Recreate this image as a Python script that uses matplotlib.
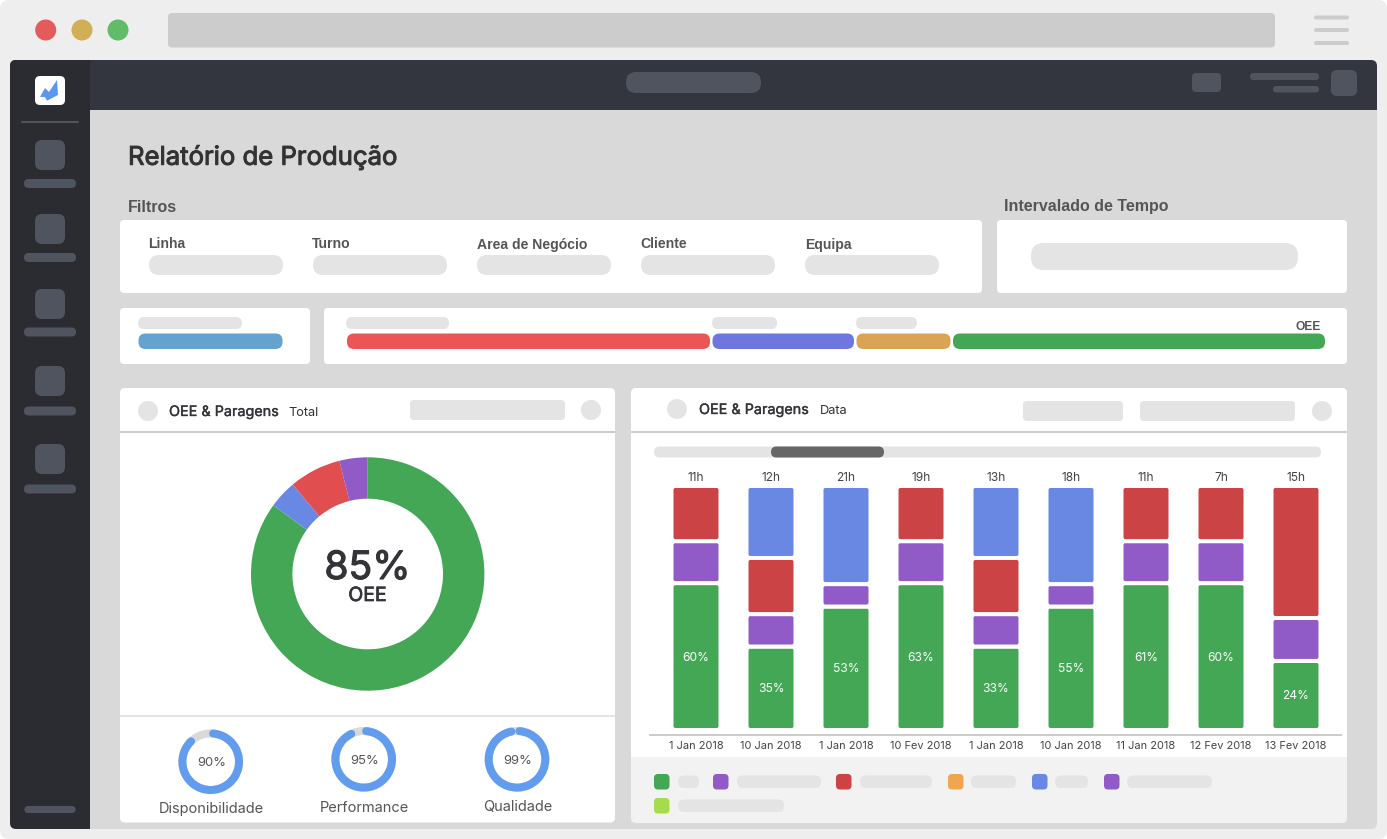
import numpy as np
import matplotlib
matplotlib.use("Agg")
import matplotlib.pyplot as plt
import matplotlib.patheffects as pe
from matplotlib.patches import FancyBboxPatch, Circle, Polygon, Arc

# ---------- data ----------
dates = ["1 Jan 2018", "10 Jan 2018", "1 Jan 2018", "10 Fev 2018", "1 Jan 2018",
         "10 Jan 2018", "11 Jan 2018", "12 Fev 2018", "13 Fev 2018"]
hours = ["11h", "12h", "21h", "19h", "13h", "18h", "11h", "7h", "15h"]
oee_labels = ["60%", "35%", "53%", "63%", "33%", "55%", "61%", "60%", "24%"]
green_vals = [60.2, 34.2, 50.6, 60.2, 34.2, 50.6, 60.2, 60.2, 28.3]
purple_vals = [17.2, 13.3, 9.2, 17.2, 13.3, 9.2, 17.2, 17.2, 17.6]
red_vals = [22.6, 23.0, 0, 22.6, 23.0, 0, 22.6, 22.6, 54.1]
blue_vals = [0, 29.5, 40.2, 0, 29.5, 40.2, 0, 0, 0]

donut_vals = [85.0, 3.9, 7.2, 3.9]
gauge_vals = [90, 95, 99]
gauge_names = ["Disponibilidade", "Performance", "Qualidade"]
filter_names = ["Linha", "Turno", "Area de Negócio", "Cliente", "Equipa"]

# ---------- colours ----------
GREEN, PURPLE, RED, BLUE = "#43A755", "#915BC7", "#CB4345", "#6888E3"
DONUT_RED = "#E04E50"
PILL, ICON, INK = "#E4E4E4", "#50545E", "#333338"

W, H = 1387, 839
PT = 0.72  # points per pixel at dpi 100
BODY = "Inter"
HEADING = "Liberation Sans"

fig = plt.figure(figsize=(W / 100, H / 100), dpi=100, facecolor="white")
bg = fig.add_axes([0, 0, 1, 1])
bg.set_xlim(0, W)
bg.set_ylim(H, 0)
bg.axis("off")


def rr(x0, y0, x1, y1, r, color, ax=bg, z=1):
    ax.add_patch(FancyBboxPatch((x0, y0), x1 - x0, y1 - y0,
                                boxstyle=f"round,pad=0,rounding_size={r}",
                                fc=color, ec="none", lw=0, zorder=z))


def dot(x, y, r, color, z=2):
    bg.add_patch(Circle((x, y), r, fc=color, ec="none", zorder=z))


def heavier(t, color, amount):
    t.set_path_effects([pe.withStroke(linewidth=amount, foreground=color)])


def txt(x, y, s, px, color=INK, weight="normal", ha="left", family=BODY, stroke=0, va="center_baseline"):
    t = bg.text(x, y, s, fontsize=px * PT, color=color, fontweight=weight, ha=ha,
                va=va, family=family, zorder=5)
    if stroke:
        heavier(t, color, stroke)
    return t


def ax_px(x0, y0, x1, y1):
    a = fig.add_axes([x0 / W, 1 - y1 / H, (x1 - x0) / W, (y1 - y0) / H])
    a.patch.set_alpha(0)
    return a


# ---------- browser chrome ----------
rr(0, 0, W, H, 9, "#EEEEEE", z=0)
for x, c in [(45.7, "#E55A5D"), (82, "#D1AF56"), (118, "#60BC69")]:
    dot(x, 30, 10.5, c)
rr(168, 13, 1275, 47.5, 4, "#CCCCCC")
for y in (15.5, 28, 41):
    rr(1314, y, 1349, y + 4, 2, "#CCCCCC")

# window
rr(10, 60, 1377, 829, 6, "#D9D9D9")
rr(10, 60, 1377, 110, 6, "#33363E", z=1.1)
bg.fill_between([90, 1377], 100, 110, color="#33363E", lw=0, zorder=1.1)
rr(10, 60, 90, 829, 6, "#2B2C31", z=1.2)
bg.fill_between([50, 90], 60, 829, color="#2B2C31", lw=0, zorder=1.2)

# header
rr(626, 72, 761, 93, 10, ICON, z=2)
rr(1192, 73, 1221, 92, 4, ICON, z=2)
rr(1250, 73, 1319, 80, 3.5, ICON, z=2)
rr(1273, 86, 1319, 92.5, 3, ICON, z=2)
rr(1331, 70, 1357, 96, 6, ICON, z=2)

# sidebar
rr(35, 76, 65, 105, 5, "#FFFFFF", z=2)
bg.add_patch(Polygon([(40, 97), (45, 88), (49, 92), (57, 80), (58, 95), (47, 100.7), (45, 97)],
                     closed=True, fc="#5B96F0", ec="none", zorder=3))
rr(21, 121, 79, 123, 1, ICON, z=2)
for cy, py in zip((155, 229, 304, 381, 459), (183.5, 257.5, 332, 411, 489)):
    rr(35, cy - 15, 65, cy + 15, 7, ICON, z=2)
    rr(24, py - 4.5, 76, py + 4.5, 4.5, ICON, z=2)
rr(24.5, 806, 75.5, 813, 3.5, ICON, z=2)

# ---------- page header and filters ----------
txt(128, 155, "Relatório de Produção", 25.7, "#333333", stroke=0.7)
txt(128, 211.5, "Filtros", 16, "#555555", "bold", family=HEADING, va="baseline")
txt(1004, 211.5, "Intervalado de Tempo", 16, "#555555", "bold", family=HEADING, va="baseline")

rr(120, 220, 982, 293, 4, "#FFFFFF", z=2)
rr(997, 220, 1347, 293, 4, "#FFFFFF", z=2)
for name, tx, px0 in zip(filter_names, (148, 312, 477, 640, 805), (149, 313, 477, 641, 805)):
    txt(tx, 248.5, name, 14, "#555555", "bold", family=HEADING, va="baseline")
    rr(px0, 255, px0 + 134, 275, 10, PILL, z=3)
rr(1031, 243, 1298, 270, 13, PILL, z=3)

# ---------- summary bars ----------
rr(120, 308, 310, 364, 4, "#FFFFFF", z=2)
rr(324, 308, 1347, 364, 4, "#FFFFFF", z=2)
for a, b in [(138, 242), (346, 449), (712, 777), (856, 917)]:
    rr(a, 317, b, 329, 6, PILL, z=3)
for a, b, c in [(138.5, 282.5, "#64A3CE"), (347, 710, "#EC5557"), (712.5, 854, "#7076DF"),
                (856.5, 950.5, "#D9A456"), (953, 1325, GREEN)]:
    rr(a, 333.5, b, 349, 7, c, z=3)
txt(1321, 325, "OEE", 12, "#555555", "bold", ha="right", family=HEADING)

# ---------- left card ----------
rr(120, 388, 615, 822.5, 5, "#FFFFFF", z=2)
bg.fill_between([120, 615], 431, 433, color="#CCCCCC", lw=0, zorder=3)
bg.fill_between([120, 615], 715, 717, color="#E4E4E4", lw=0, zorder=3)
dot(148, 411, 10, PILL, z=3)
txt(169, 410.5, "OEE & Paragens", 14.4, INK, stroke=0.25)
txt(288.5, 411, "Total", 12.8, INK)
rr(410, 400, 565, 420, 4, PILL, z=3)
dot(591, 410, 10, PILL, z=3)

# donut
RO, RI = 116.7, 75.3
dax = ax_px(367.7 - RO * 1.1, 574 - RO * 1.1, 367.7 + RO * 1.1, 574 + RO * 1.1)
dax.pie(donut_vals, colors=[GREEN, BLUE, DONUT_RED, PURPLE], startangle=90, counterclock=False,
        radius=1, wedgeprops=dict(width=(RO - RI) / RO, lw=0))
dax.set_xlim(-1.1, 1.1)
dax.set_ylim(-1.1, 1.1)
txt(367.5, 564.5, "85%", 39, INK, ha="center", stroke=0.8)
txt(367.5, 594, "OEE", 19.5, INK, ha="center", stroke=0.5)

# gauges
GB = "#629CEE"
OUT, RING = 32.3, 8.0
for v, name, cx, cy, ly in zip(gauge_vals, gauge_names, (210.7, 363.7, 517), (761.7, 759.3, 759.3),
                               (808, 806, 806)):
    g = ax_px(cx - 36, cy - 36, cx + 36, cy + 36)
    g.pie([1], colors=["#D9D9D9"], radius=OUT, wedgeprops=dict(width=RING, lw=0))
    g.set_xlim(-36, 36)
    g.set_ylim(-36, 36)
    mid = OUT - RING / 2
    g.add_patch(Arc((0, 0), 2 * mid, 2 * mid, theta1=90 - (v * 3.6 - 8), theta2=90 - 5,
                    color=GB, lw=RING * PT, capstyle="round"))
    txt(cx + 1.5 if v == 90 else cx + 1, cy + 0.3, f"{v}%", 13, "#555555", ha="center")
    txt(cx + 0.5, ly, name, 14.6, "#555555", ha="center")

# ---------- right card ----------
rr(631, 388, 1347, 823, 5, "#F2F2F2", z=2)
rr(631, 388, 1347, 420, 5, "#FFFFFF", z=2.1)
bg.fill_between([631, 1347], 410, 757, color="#FFFFFF", lw=0, zorder=2.1)
bg.fill_between([631, 1347], 431, 433, color="#CCCCCC", lw=0, zorder=3)
dot(677, 409, 10, PILL, z=3)
txt(699, 408.5, "OEE & Paragens", 14.4, INK, stroke=0.25)
txt(820, 410, "Data", 12.8, INK)
rr(1023, 401, 1123, 421, 4, PILL, z=3)
rr(1140, 401, 1295, 421, 4, PILL, z=3)
dot(1322, 411, 10, PILL, z=3)
rr(654, 446.5, 1321, 457.5, 5.5, PILL, z=3)
rr(771, 446.5, 884, 457.5, 5.5, "#666666", z=4)

# stacked bars
STEP, YPX, ZERO_PX = 75.0, 2.44, 730.0
X0, BAR_PX, GAP_PX = 696.0, 45.0, 4.0
L, R, T, B = 650, 1341, 480, 735
bax = ax_px(L, T, R, B)
idx = np.arange(len(dates))
bottoms = np.zeros(len(dates))
for vals, col in [(green_vals, GREEN), (purple_vals, PURPLE), (red_vals, RED), (blue_vals, BLUE)]:
    vals = np.array(vals, dtype=float)
    rects = bax.bar(idx[vals > 0], vals[vals > 0], bottom=bottoms[vals > 0],
                    width=(BAR_PX + GAP_PX) / STEP)
    for rect in list(rects):
        bx, by, bw, bh = rect.get_x(), rect.get_y(), rect.get_width(), rect.get_height()
        rect.remove()
        bax.add_patch(FancyBboxPatch((bx, by), bw, bh,
                                     boxstyle=f"round,pad=0,rounding_size={4 / STEP}",
                                     mutation_aspect=STEP / YPX,
                                     fc=col, ec="white", lw=GAP_PX * PT))
    bottoms += vals
bax.set_xlim((L - X0) / STEP, (R - X0) / STEP)
bax.set_ylim((ZERO_PX - B) / YPX, (ZERO_PX - T) / YPX)
for s in ("top", "left", "right"):
    bax.spines[s].set_visible(False)
bax.spines["bottom"].set_color("#CCCCCC")
bax.spines["bottom"].set_linewidth(2 * PT)
bax.set_yticks([])
bax.set_xticks(idx, dates, fontsize=11 * PT, color="#444444", family=BODY)
bax.tick_params(axis="x", length=0, pad=4.2)
for i, (h, lab, g, tot) in enumerate(zip(hours, oee_labels, green_vals, bottoms)):
    bax.annotate(lab, (i, g / 2), xytext=(0, 0.4), textcoords="offset points", color="white",
                 fontsize=12 * PT, ha="center", va="center_baseline", family=BODY)
    bax.annotate(h, (i, tot), xytext=(0, 1.4), textcoords="offset points", ha="center", va="bottom",
                 fontsize=12 * PT, color="#444444", family=BODY, annotation_clip=False)

# legend
for sx, sy, c, p0, p1 in [(654, 774, GREEN, 678, 699), (713, 774, PURPLE, 737, 821),
                          (836, 774, RED, 860, 932), (948, 774, "#EEA651", 971, 1016),
                          (1032, 774, BLUE, 1055, 1088), (1104, 774, PURPLE, 1127, 1212),
                          (654, 798, "#A4DC4C", 678, 784)]:
    rr(sx, sy, sx + 15.5, sy + 15.5, 4, c, z=3)
    rr(p0, sy + 1.5, p1, sy + 14, 6, PILL, z=3)

fig.savefig("out.png", dpi=100, facecolor="white")
